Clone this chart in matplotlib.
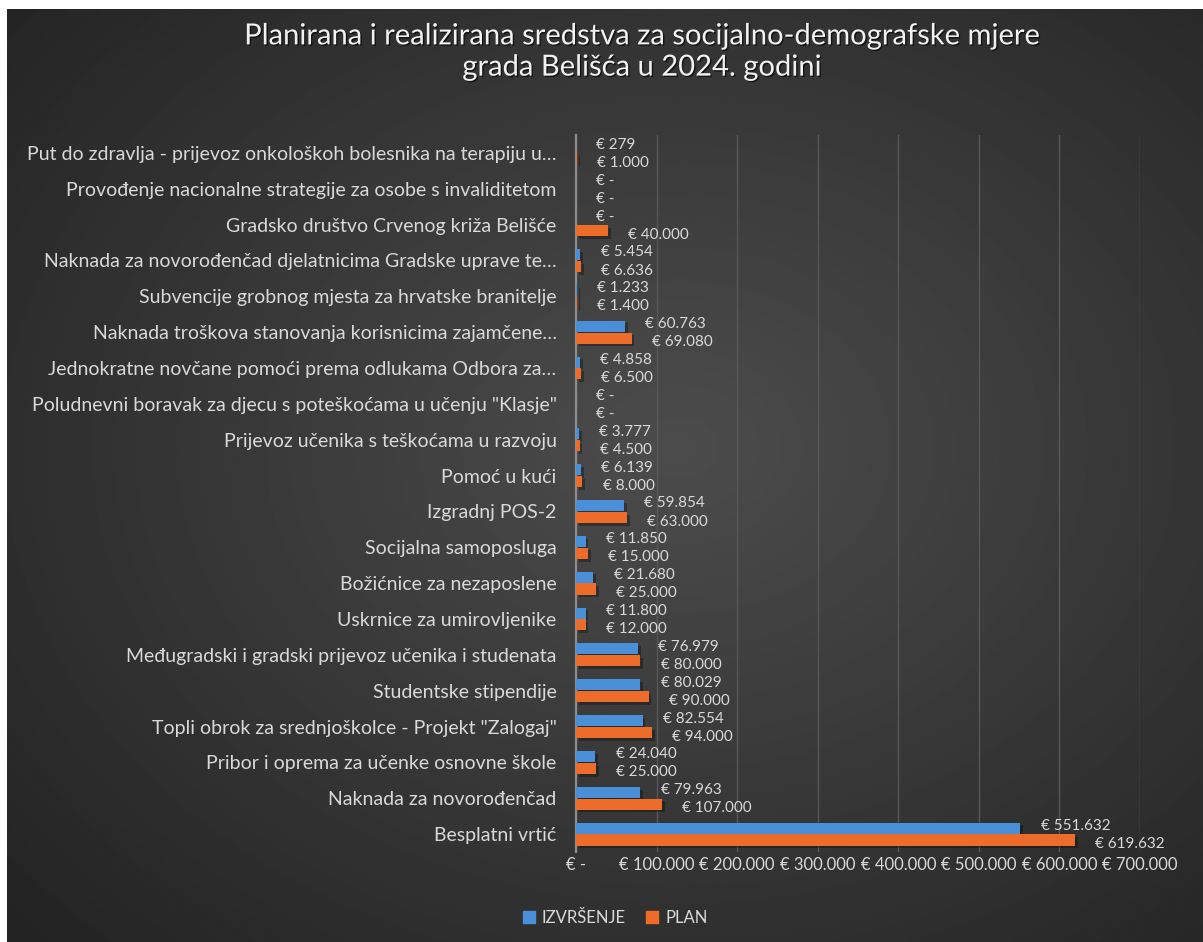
import numpy as np
import matplotlib
matplotlib.use("Agg")
import matplotlib.pyplot as plt
import matplotlib.patheffects as pe
from matplotlib.patches import Patch
from matplotlib.ticker import FuncFormatter

plt.rcParams["font.family"] = ["Lato", "DejaVu Sans"]

categories = [
    "Put do zdravlja - prijevoz onkološkoh bolesnika na terapiju u…",
    "Provođenje nacionalne strategije za osobe s invaliditetom",
    "Gradsko društvo Crvenog križa Belišće",
    "Naknada za novorođenčad djelatnicima Gradske uprave te…",
    "Subvencije grobnog mjesta za hrvatske branitelje",
    "Naknada troškova stanovanja korisnicima zajamčene…",
    "Jednokratne novčane pomoći prema odlukama Odbora za…",
    "Poludnevni boravak za djecu s poteškoćama u učenju \"Klasje\"",
    "Prijevoz učenika s teškoćama u razvoju",
    "Pomoć u kući",
    "Izgradnj POS-2",
    "Socijalna samoposluga",
    "Božićnice za nezaposlene",
    "Uskrnice za umirovljenike",
    "Međugradski i gradski prijevoz učenika i studenata",
    "Studentske stipendije",
    "Topli obrok za srednjoškolce - Projekt \"Zalogaj\"",
    "Pribor i oprema za učenke osnovne škole",
    "Naknada za novorođenčad",
    "Besplatni vrtić",
]
izvrsenje = [279, 0, 0, 5454, 1233, 60763, 4858, 0, 3777, 6139,
             59854, 11850, 21680, 11800, 76979, 80029, 82554, 24040, 79963, 551632]
plan = [1000, 0, 40000, 6636, 1400, 69080, 6500, 0, 4500, 8000,
        63000, 15000, 25000, 12000, 80000, 90000, 94000, 25000, 107000, 619632]
x_ticks = [0, 100000, 200000, 300000, 400000, 500000, 600000, 700000]

TXT = "#d9d9d9"
BLUE, ORANGE = "#4a90d9", "#ee6c2a"
W, H = 1203, 942


def euro(v, _pos=None):
    if v == 0:
        return "€ -"
    return "€ " + f"{int(round(v)):,}".replace(",", ".")


fig = plt.figure(figsize=(W / 100, H / 100), dpi=100, facecolor="white")

# radial dark background (white strip on top/left like the source screenshot)
bg = fig.add_axes([7 / W, 0, 1 - 7 / W, (H - 9) / H])
yy, xx = np.mgrid[0:1:400j, 0:1:500j]
r = np.sqrt(((xx - 0.56) / 0.75) ** 2 + ((yy - 0.47) / 0.75) ** 2)
shade = np.clip(0.30 - 0.16 * r, 0.14, 0.30)
bg.imshow(shade, cmap="gray", vmin=0, vmax=1, aspect="auto", extent=[0, 1, 1, 0])
bg.axis("off")

ax = fig.add_axes([576 / W, 90 / H, 564 / W, 717 / H])
ax.set_facecolor("none")

y = np.arange(len(categories))
bh = 0.31
shadow = [pe.SimplePatchShadow(offset=(2, -2), shadow_rgbFace="black", alpha=0.3), pe.Normal()]
b1 = ax.barh(y - bh / 2 - 0.01, izvrsenje, height=bh, color=BLUE, label="IZVRŠENJE", zorder=3)
b2 = ax.barh(y + bh / 2 + 0.01, plan, height=bh, color=ORANGE, label="PLAN", zorder=3)
for bars in (b1, b2):
    for p in bars:
        p.set_path_effects(shadow)

# value labels: blue nudged up, orange nudged down so the pair stays readable
for bars, vals, dy in ((b1, izvrsenje, 1.5), (b2, plan, -3.0)):
    for p, v in zip(bars, vals):
        ax.annotate(euro(v), (p.get_width(), p.get_y() + p.get_height() / 2),
                    xytext=(14.5, dy), textcoords="offset points", ha="left", va="center",
                    color=TXT, fontsize=11, zorder=4)

ax.set_ylim(len(categories) - 0.5, -0.5)
ax.set_xlim(0, 700000)
ax.set_yticks(y)
ax.set_yticklabels(categories, fontsize=14)
ax.set_xticks(x_ticks)
ax.xaxis.set_major_formatter(FuncFormatter(euro))
ax.tick_params(axis="both", length=0, colors=TXT)
ax.tick_params(axis="x", labelsize=12, pad=3.5)
ax.tick_params(axis="y", pad=14)
ax.grid(axis="x", color="#575757", lw=1, zorder=0)
ax.set_axisbelow(True)
for s in ("top", "right", "bottom"):
    ax.spines[s].set_visible(False)
ax.spines["left"].set_color("#8c8c8c")
ax.spines["left"].set_linewidth(1.6)

fig.text(642 / W, 1 - 52 / H,
         "Planirana i realizirana sredstva za socijalno-demografske mjere\ngrada Belišća u 2024. godini",
         ha="center", va="center", color="#f2f2f2", fontsize=21, linespacing=1.25,
         path_effects=[pe.withSimplePatchShadow(offset=(1, -1), shadow_rgbFace="black", alpha=0.6)])

handles = [Patch(color=BLUE), Patch(color=ORANGE)]
fig.legend(handles, ["IZVRŠENJE", "PLAN"], loc="center", bbox_to_anchor=(615 / W, 24 / H),
           ncol=2, frameon=False, fontsize=12, labelcolor=TXT, handlelength=0.75,
           handleheight=0.75, handletextpad=0.4, columnspacing=1.2)

fig.savefig("out.png", dpi=100, facecolor=fig.get_facecolor())
